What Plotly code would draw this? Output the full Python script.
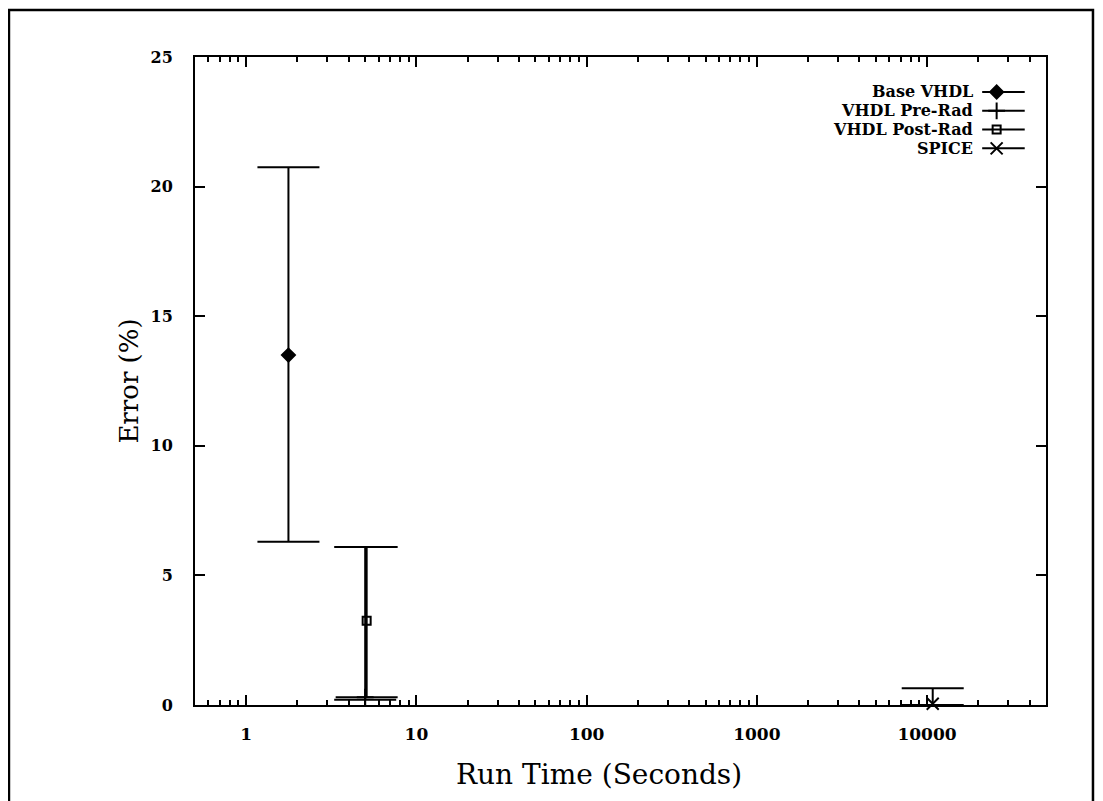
import plotly.graph_objects as go
import numpy as np

# ---------------- data ----------------
series = ["Base VHDL", "VHDL Pre-Rad", "VHDL Post-Rad", "SPICE"]
run_time = [1.77, 5.0, 5.1, 10800]          # seconds
error_pct = [13.5, 0.3, 3.25, 0.05]         # %
error_high = [20.75, 6.1, 6.1, 0.65]        # upper end of error bar
error_low = [6.3, 0.2, 0.3, 0.0]            # lower end of error bar
marker_symbols = ["diamond", "cross-thin-open", "square-open", "x-thin-open"]
marker_sizes = [10, 12, 8, 12]

x_tick_vals = [1, 10, 100, 1000, 10000]
x_tick_text = ["1", "10", "100", "1000", "10000"]
y_tick_vals = [0, 5, 10, 15, 20, 25]

x_title = "Run Time (Seconds)"
y_title = "Error (%)"

FONT = "DejaVu Serif"

fig = go.Figure()

for i, name in enumerate(series):
    plus = error_high[i] - error_pct[i]
    minus = error_pct[i] - error_low[i]
    fig.add_trace(go.Scatter(
        x=[run_time[i]], y=[error_pct[i]], mode="markers", name=name,
        showlegend=False, cliponaxis=False,
        marker=dict(symbol=marker_symbols[i], size=marker_sizes[i], color="black",
                    line=dict(color="black", width=2)),
        error_y=dict(type="data", symmetric=False, array=[plus], arrayminus=[minus],
                     color="black", thickness=2, width=31),
        xaxis="x", yaxis="y",
    ))

# legend samples (text on the left, symbol on the right) drawn on a hidden overlay axis
legend_rows = [0.946, 0.917, 0.888, 0.859]
for i, name in enumerate(series):
    fig.add_trace(go.Scatter(
        x=[0.925, 0.975], y=[legend_rows[i]] * 2, mode="lines",
        line=dict(color="black", width=2), showlegend=False, hoverinfo="skip",
        xaxis="x2", yaxis="y2"))
    fig.add_trace(go.Scatter(
        x=[0.942], y=[legend_rows[i]], mode="markers",
        marker=dict(symbol=marker_symbols[i], size=marker_sizes[i], color="black",
                    line=dict(color="black", width=2)),
        showlegend=False, hoverinfo="skip", xaxis="x2", yaxis="y2"))
    fig.add_annotation(x=0.917, y=legend_rows[i], xref="x2", yref="y2",
                       text=name, showarrow=False, xanchor="right", yanchor="middle",
                       font=dict(family=FONT, size=16, color="black", weight="bold"))

axis_common = dict(showline=True, linecolor="black", linewidth=2, mirror="allticks",
                   ticks="inside", tickcolor="black", tickwidth=2, showgrid=False,
                   zeroline=False)

fig.update_layout(
    width=1103, height=801,
    margin=dict(l=187, r=65, t=49, b=104),
    paper_bgcolor="white", plot_bgcolor="white",
    showlegend=False,
    xaxis=dict(type="log", range=[np.log10(0.5), np.log10(50000)],
               tickvals=x_tick_vals, ticktext=x_tick_text, ticklen=10,
               ticklabelstandoff=13,
               tickfont=dict(family=FONT, size=17, color="black", weight="bold"),
               minor=dict(ticks="inside", ticklen=5, tickcolor="black", tickwidth=1.5,
                          dtick="D1", showgrid=False),
               **axis_common),
    yaxis=dict(range=[0, 25], tickvals=y_tick_vals, ticklen=10,
               ticklabelstandoff=17,
               tickfont=dict(family=FONT, size=16, color="black", weight="bold"),
               title=dict(text=y_title, standoff=4,
                          font=dict(family=FONT, size=26, color="black")),
               **axis_common),
    xaxis2=dict(overlaying="x", range=[0, 1], visible=False, fixedrange=True),
    yaxis2=dict(overlaying="y", range=[0, 1], visible=False, fixedrange=True),
)

# x-axis title (placed slightly left of the plot centre, as in the original)
fig.add_annotation(x=0.475, y=-0.108, xref="paper", yref="paper", text=x_title,
                   showarrow=False, xanchor="center", yanchor="middle",
                   font=dict(family=FONT, size=28, color="black"))

# outer page frame
fig.add_shape(type="rect", xref="paper", yref="paper",
              x0=-0.2186, x1=1.0552, y0=-0.2, y1=1.0725,
              line=dict(color="black", width=2.5), fillcolor="rgba(0,0,0,0)", layer="below")

fig.write_html("out.html")
